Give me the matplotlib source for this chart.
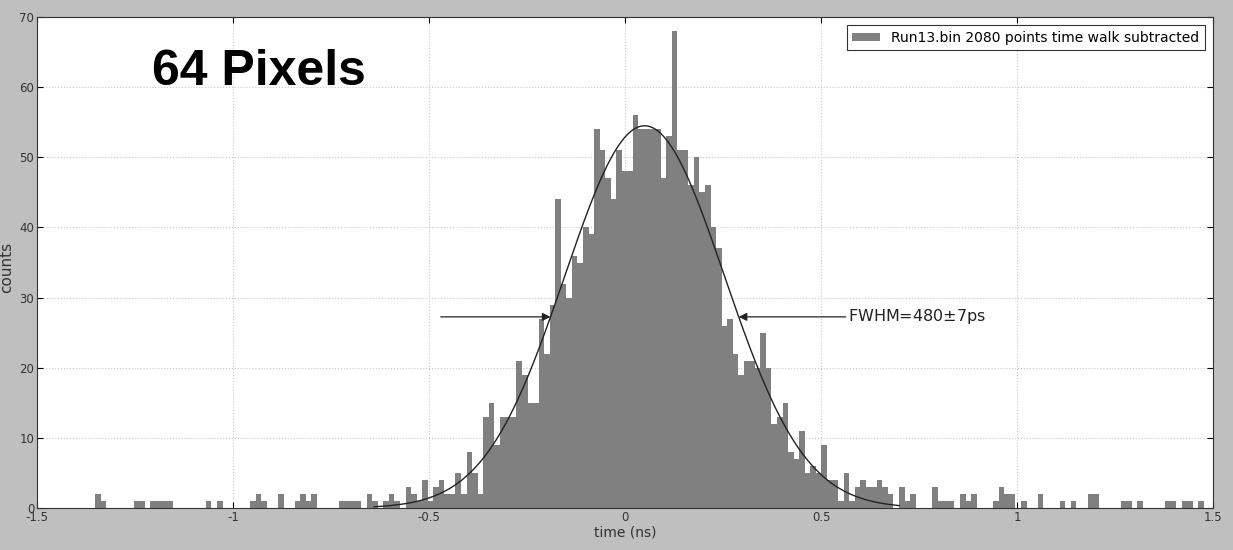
import matplotlib
matplotlib.use('Agg')
import matplotlib.pyplot as plt
import numpy as np

# histogram: 200 bins between the first and last event
t_lo, t_hi, n_bins = -1.352, 1.477, 200
counts = [
    2, 1, 0, 0, 0, 0, 0, 1, 1, 0,          # 0-9
    1, 1, 1, 1, 0, 0, 0, 0, 0, 0,          # 10-19
    1, 0, 1, 0, 0, 0, 0, 0, 1, 2,          # 20-29
    1, 0, 0, 2, 0, 0, 1, 2, 1, 2,          # 30-39
    0, 0, 0, 0, 1, 1, 1, 1, 0, 2,          # 40-49
    1, 0, 1, 2, 1, 0, 3, 2, 1, 4,          # 50-59
    1, 3, 4, 2, 2, 5, 2, 8, 5, 2,          # 60-69
    13, 15, 9, 13, 13, 13, 21, 19, 15, 15,  # 70-79
    27, 22, 29, 44, 32, 30, 36, 35, 40, 39,  # 80-89
    54, 51, 47, 44, 51, 48, 48, 56, 54, 54,  # 90-99
    54, 54, 47, 53, 68, 51, 51, 46, 50, 45,  # 100-109
    46, 40, 37, 26, 27, 22, 19, 21, 21, 20,  # 110-119
    25, 20, 12, 13, 15, 8, 7, 11, 5, 6,     # 120-129
    5, 9, 4, 4, 1, 5, 1, 3, 4, 3,          # 130-139
    3, 4, 3, 2, 0, 3, 1, 2, 0, 0,          # 140-149
    0, 3, 1, 1, 1, 0, 2, 1, 2, 0,          # 150-159
    0, 0, 1, 3, 2, 2, 0, 1, 0, 0,          # 160-169
    2, 0, 0, 0, 1, 0, 1, 0, 0, 2,          # 170-179
    2, 0, 0, 0, 0, 1, 1, 0, 1, 0,          # 180-189
    0, 0, 0, 1, 1, 0, 1, 1, 0, 1,          # 190-199
]

# gaussian fit
fit_amp = 54.5
fit_mu = 0.05
fwhm = 0.48
fit_sigma = fwhm / 2.3548
fit_range = (-0.64, 0.70)

edges = np.linspace(t_lo, t_hi, n_bins + 1)
centers = 0.5 * (edges[:-1] + edges[1:])

fig = plt.figure(figsize=(12.33, 5.5), dpi=100)
fig.patch.set_facecolor('#bfbfbf')
ax = fig.add_axes([0.030, 0.0764, 0.9538, 0.8926])
ax.set_facecolor('white')

ax.hist(centers, bins=edges, weights=counts, histtype='stepfilled',
        color='#808080', linewidth=0,
        label='Run13.bin 2080 points time walk subtracted')

xf = np.linspace(fit_range[0], fit_range[1], 400)
yf = fit_amp * np.exp(-0.5 * ((xf - fit_mu) / fit_sigma) ** 2)
ax.plot(xf, yf, color='#222222', linewidth=1.0)

# FWHM arrows
half = fit_amp / 2.0
x_left = fit_mu - fwhm / 2
x_right = fit_mu + fwhm / 2
ax.annotate('', xy=(x_left, half), xytext=(-0.47, half),
            arrowprops=dict(arrowstyle='-|>', color='#222222', lw=0.9,
                            mutation_scale=12, shrinkA=0, shrinkB=0))
ax.annotate('FWHM=480$\\pm$7ps', xy=(x_right, half), xytext=(0.57, half),
            va='center', ha='left', fontsize=11.5, color='#222222',
            arrowprops=dict(arrowstyle='-|>', color='#222222', lw=0.9,
                            mutation_scale=12, shrinkA=0, shrinkB=0))

ax.text(-1.207, 60.3, '64 Pixels', fontsize=36, fontweight='bold',
        family='Liberation Sans', va='baseline', ha='left', color='black')

ax.set_xlim(-1.5, 1.5)
ax.set_ylim(0, 70)
ax.set_xticks([-1.5, -1, -0.5, 0, 0.5, 1, 1.5])
ax.set_xticklabels(['-1.5', '-1', '-0.5', '0', '0.5', '1', '1.5'])
ax.set_yticks(range(0, 71, 10))
ax.tick_params(direction='in', top=True, right=True, labelsize=8.5,
               labelcolor='#333333', pad=2, length=4)
ax.grid(True, color='#c8c8c8', linestyle=':', linewidth=0.8)
ax.set_axisbelow(True)
for s in ax.spines.values():
    s.set_color('#333333')

ax.set_xlabel('time (ns)', fontsize=10, color='#333333', labelpad=1)
ax.set_ylabel('counts', fontsize=11, color='#333333')
ax.yaxis.set_label_coords(-0.0196, 0.49)

leg = ax.legend(loc='upper right', fontsize=10, fancybox=False,
                framealpha=1, edgecolor='#333333', handlelength=2.0,
                handleheight=0.5, borderaxespad=0.6)
leg.get_frame().set_linewidth(0.8)

fig.savefig('out.png', dpi=100, facecolor=fig.get_facecolor())
